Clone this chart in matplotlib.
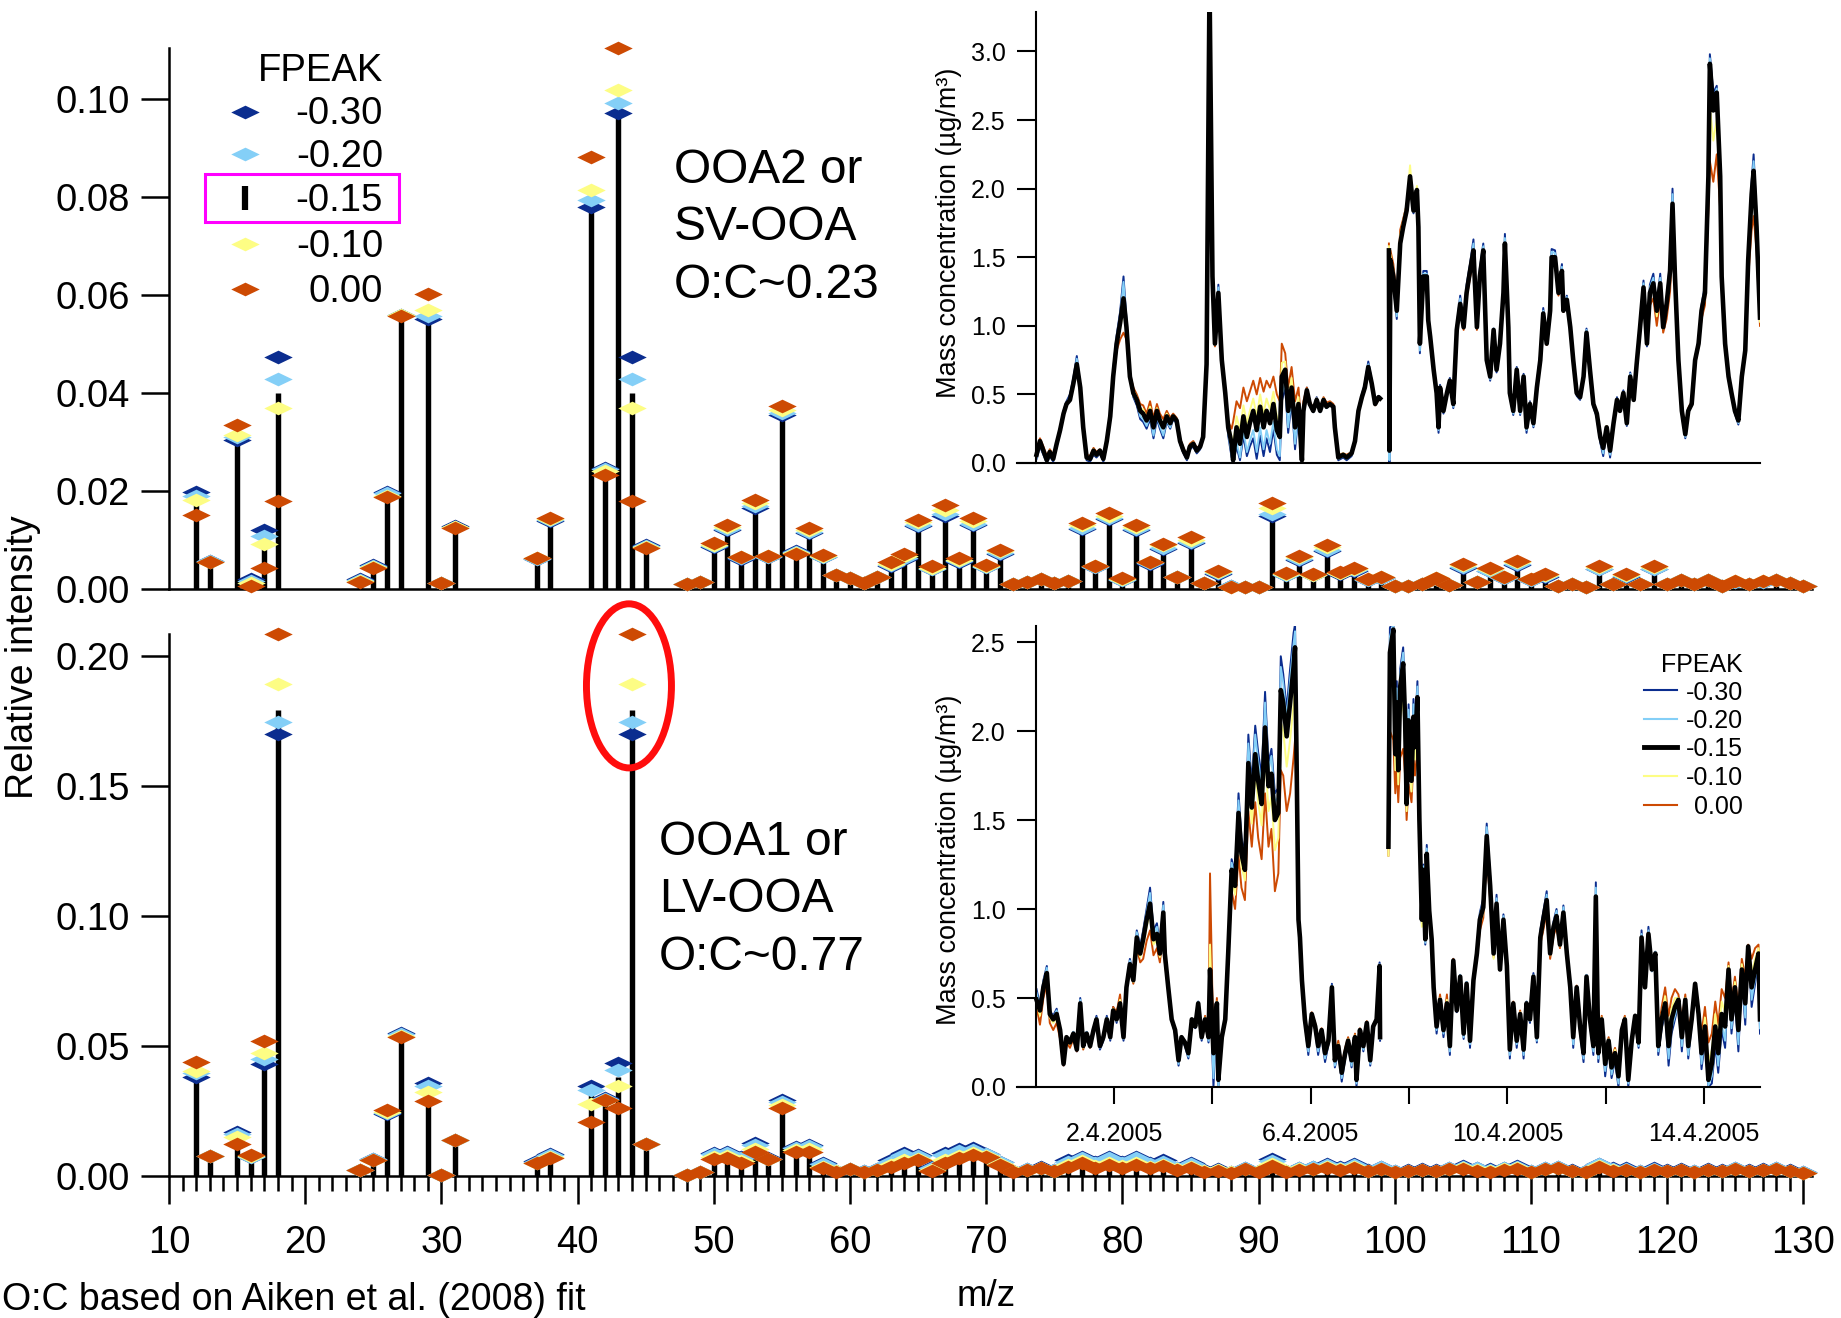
import numpy as np
import matplotlib
matplotlib.use('Agg')
import matplotlib.pyplot as plt
from matplotlib.path import Path
from matplotlib.patches import Ellipse, Rectangle
from matplotlib.lines import Line2D

plt.rcParams['font.family'] = ['Liberation Sans', 'DejaVu Sans']

nan = np.nan
W, H = 1841, 1318

fpeaks = ['-0.30', '-0.20', '-0.15', '-0.10', '0.00']
colors = {'-0.30': '#0b2d8f', '-0.20': '#84cff7', '-0.15': 'black',
          '-0.10': '#fdfd84', '0.00': '#cd4a03'}

# m/z channels shown in both spectra
mz = [12, 13, 15, 16, 17, 18, 24, 25, 26, 27, 29, 30, 31, 37, 38, 41, 42, 43, 44, 45] + list(range(48, 131))

# ---- OOA2 / SV-OOA spectrum (top) ----
top_030 = [0.0197, 0.0058, 0.0305, 0.0020, 0.0121, 0.0474, 0.0020, 0.0050, 0.0198, 0.0560,
           0.0552, 0.0012, 0.0128, 0.0062, 0.0138, 0.0780, 0.0246, 0.0972, 0.0474, 0.0090,
           0.0010, 0.0015, 0.0085, 0.0120, 0.0062, 0.0166, 0.0065, 0.0355, 0.0078, 0.0115,
           0.0065, 0.0028, 0.0022, 0.0013, 0.0025, 0.0046, 0.0062, 0.0128, 0.0040, 0.0148,
           0.0056, 0.0130, 0.0044, 0.0072, 0.0010, 0.0015, 0.0020, 0.0013, 0.0017, 0.0123,
           0.0044, 0.0142, 0.0018, 0.0120, 0.0052, 0.0082, 0.0024, 0.0093, 0.0013, 0.0030,
           0.0006, 0.0005, 0.0005, 0.0148, 0.0028, 0.0060, 0.0028, 0.0077, 0.0031, 0.0037,
           0.0019, 0.0023, 0.0007, 0.0007, 0.0010, 0.0021, 0.0009, 0.0043, 0.0014, 0.0036,
           0.0022, 0.0050, 0.0019, 0.0025, 0.0007, 0.0010, 0.0005, 0.0040, 0.0011, 0.0025,
           0.0010, 0.0040, 0.0010, 0.0018, 0.0011, 0.0018, 0.0007, 0.0015, 0.0010, 0.0015,
           0.0018, 0.0012, 0.0007]
top_020 = [0.0190, 0.0057, 0.0310, 0.0016, 0.0108, 0.0428, 0.0018, 0.0047, 0.0195, 0.0560,
           0.0557, 0.0012, 0.0127, 0.0062, 0.0140, 0.0794, 0.0245, 0.0991, 0.0428, 0.0088,
           0.0010, 0.0015, 0.0087, 0.0122, 0.0063, 0.0169, 0.0066, 0.0359, 0.0076, 0.0117,
           0.0066, 0.0028, 0.0022, 0.0013, 0.0025, 0.0048, 0.0064, 0.0131, 0.0041, 0.0153,
           0.0057, 0.0133, 0.0045, 0.0074, 0.0010, 0.0015, 0.0020, 0.0013, 0.0017, 0.0125,
           0.0045, 0.0145, 0.0019, 0.0122, 0.0053, 0.0084, 0.0024, 0.0096, 0.0013, 0.0032,
           0.0006, 0.0005, 0.0005, 0.0154, 0.0029, 0.0062, 0.0028, 0.0080, 0.0032, 0.0038,
           0.0019, 0.0023, 0.0007, 0.0007, 0.0010, 0.0021, 0.0009, 0.0045, 0.0014, 0.0037,
           0.0023, 0.0052, 0.0019, 0.0026, 0.0007, 0.0010, 0.0005, 0.0041, 0.0011, 0.0026,
           0.0010, 0.0041, 0.0010, 0.0018, 0.0011, 0.0018, 0.0007, 0.0015, 0.0010, 0.0015,
           0.0018, 0.0012, 0.0007]
top_015 = [0.0180, 0.0056, 0.0310, 0.0014, 0.0098, 0.0400, 0.0017, 0.0046, 0.0192, 0.0559,
           0.0560, 0.0012, 0.0126, 0.0063, 0.0141, 0.0800, 0.0243, 0.1000, 0.0400, 0.0087,
           0.0010, 0.0015, 0.0088, 0.0124, 0.0064, 0.0171, 0.0066, 0.0362, 0.0075, 0.0118,
           0.0067, 0.0028, 0.0022, 0.0013, 0.0025, 0.0050, 0.0065, 0.0133, 0.0042, 0.0156,
           0.0058, 0.0135, 0.0045, 0.0075, 0.0010, 0.0015, 0.0020, 0.0012, 0.0017, 0.0127,
           0.0045, 0.0147, 0.0020, 0.0124, 0.0054, 0.0086, 0.0024, 0.0098, 0.0013, 0.0033,
           0.0006, 0.0005, 0.0005, 0.0158, 0.0030, 0.0064, 0.0029, 0.0082, 0.0032, 0.0039,
           0.0019, 0.0024, 0.0007, 0.0007, 0.0010, 0.0021, 0.0009, 0.0047, 0.0014, 0.0038,
           0.0023, 0.0053, 0.0019, 0.0027, 0.0007, 0.0010, 0.0005, 0.0042, 0.0011, 0.0027,
           0.0010, 0.0042, 0.0010, 0.0018, 0.0011, 0.0018, 0.0007, 0.0015, 0.0010, 0.0015,
           0.0018, 0.0012, 0.0007]
top_010 = [0.0181, 0.0056, 0.0314, 0.0012, 0.0092, 0.0370, 0.0016, 0.0045, 0.0190, 0.0559,
           0.0569, 0.0012, 0.0126, 0.0063, 0.0142, 0.0814, 0.0240, 0.1018, 0.0370, 0.0086,
           0.0010, 0.0015, 0.0090, 0.0126, 0.0065, 0.0175, 0.0067, 0.0366, 0.0073, 0.0120,
           0.0068, 0.0028, 0.0022, 0.0013, 0.0025, 0.0052, 0.0067, 0.0136, 0.0043, 0.0162,
           0.0060, 0.0139, 0.0046, 0.0077, 0.0010, 0.0015, 0.0020, 0.0012, 0.0017, 0.0130,
           0.0046, 0.0150, 0.0021, 0.0127, 0.0055, 0.0089, 0.0025, 0.0101, 0.0013, 0.0035,
           0.0005, 0.0005, 0.0005, 0.0165, 0.0031, 0.0066, 0.0029, 0.0085, 0.0033, 0.0040,
           0.0020, 0.0024, 0.0007, 0.0007, 0.0010, 0.0022, 0.0009, 0.0049, 0.0015, 0.0040,
           0.0024, 0.0055, 0.0020, 0.0028, 0.0007, 0.0010, 0.0005, 0.0044, 0.0011, 0.0028,
           0.0010, 0.0044, 0.0010, 0.0019, 0.0011, 0.0019, 0.0007, 0.0016, 0.0010, 0.0016,
           0.0019, 0.0013, 0.0007]
top_000 = [0.0151, 0.0055, 0.0335, 0.0007, 0.0043, 0.0179, 0.0015, 0.0043, 0.0187, 0.0558,
           0.0603, 0.0012, 0.0125, 0.0064, 0.0145, 0.0881, 0.0232, 0.1104, 0.0179, 0.0084,
           0.0010, 0.0015, 0.0094, 0.0130, 0.0066, 0.0182, 0.0068, 0.0373, 0.0071, 0.0125,
           0.0070, 0.0029, 0.0022, 0.0013, 0.0025, 0.0056, 0.0071, 0.0141, 0.0046, 0.0171,
           0.0063, 0.0145, 0.0048, 0.0080, 0.0010, 0.0015, 0.0020, 0.0012, 0.0017, 0.0134,
           0.0047, 0.0155, 0.0022, 0.0130, 0.0056, 0.0092, 0.0025, 0.0106, 0.0013, 0.0037,
           0.0005, 0.0005, 0.0005, 0.0176, 0.0032, 0.0068, 0.0030, 0.0089, 0.0034, 0.0042,
           0.0020, 0.0025, 0.0007, 0.0007, 0.0010, 0.0022, 0.0009, 0.0052, 0.0015, 0.0042,
           0.0025, 0.0058, 0.0020, 0.0030, 0.0007, 0.0010, 0.0005, 0.0046, 0.0011, 0.0030,
           0.0010, 0.0046, 0.0010, 0.0019, 0.0011, 0.0019, 0.0007, 0.0016, 0.0010, 0.0016,
           0.0019, 0.0013, 0.0007]

# ---- OOA1 / LV-OOA spectrum (bottom) ----
bot_030 = [0.0380, 0.0076, 0.0169, 0.0072, 0.0431, 0.1701, 0.0024, 0.0064, 0.0240, 0.0550,
           0.0357, 0.0005, 0.0138, 0.0058, 0.0085, 0.0345, 0.0300, 0.0433, 0.1701, 0.0124,
           0.0004, 0.0017, 0.0087, 0.0094, 0.0074, 0.0126, 0.0068, 0.0292, 0.0113, 0.0120,
           0.0049, 0.0020, 0.0028, 0.0018, 0.0025, 0.0060, 0.0087, 0.0080, 0.0035, 0.0090,
           0.0103, 0.0106, 0.0085, 0.0055, 0.0020, 0.0026, 0.0033, 0.0024, 0.0060, 0.0074,
           0.0055, 0.0074, 0.0055, 0.0074, 0.0049, 0.0060, 0.0030, 0.0049, 0.0022, 0.0025,
           0.0015, 0.0030, 0.0020, 0.0064, 0.0020, 0.0032, 0.0035, 0.0045, 0.0035, 0.0045,
           0.0022, 0.0035, 0.0019, 0.0022, 0.0025, 0.0022, 0.0030, 0.0038, 0.0032, 0.0026,
           0.0032, 0.0040, 0.0019, 0.0030, 0.0035, 0.0022, 0.0019, 0.0048, 0.0030, 0.0030,
           0.0019, 0.0030, 0.0022, 0.0025, 0.0019, 0.0025, 0.0022, 0.0032, 0.0022, 0.0025,
           0.0030, 0.0022, 0.0014]
bot_020 = [0.0395, 0.0076, 0.0162, 0.0074, 0.0450, 0.1745, 0.0024, 0.0064, 0.0244, 0.0545,
           0.0345, 0.0005, 0.0137, 0.0055, 0.0080, 0.0330, 0.0297, 0.0409, 0.1745, 0.0124,
           0.0004, 0.0017, 0.0083, 0.0089, 0.0068, 0.0118, 0.0067, 0.0286, 0.0109, 0.0115,
           0.0045, 0.0019, 0.0028, 0.0018, 0.0025, 0.0055, 0.0080, 0.0076, 0.0032, 0.0082,
           0.0096, 0.0101, 0.0083, 0.0052, 0.0019, 0.0025, 0.0032, 0.0023, 0.0055, 0.0069,
           0.0050, 0.0068, 0.0050, 0.0068, 0.0045, 0.0055, 0.0029, 0.0045, 0.0021, 0.0024,
           0.0015, 0.0029, 0.0019, 0.0058, 0.0019, 0.0030, 0.0033, 0.0042, 0.0032, 0.0042,
           0.0021, 0.0033, 0.0018, 0.0021, 0.0024, 0.0021, 0.0029, 0.0035, 0.0029, 0.0024,
           0.0030, 0.0036, 0.0018, 0.0029, 0.0034, 0.0021, 0.0018, 0.0045, 0.0027, 0.0028,
           0.0018, 0.0028, 0.0021, 0.0024, 0.0018, 0.0024, 0.0021, 0.0030, 0.0021, 0.0024,
           0.0029, 0.0021, 0.0014]
bot_015 = [0.0395, 0.0076, 0.0158, 0.0076, 0.0455, 0.1793, 0.0024, 0.0063, 0.0246, 0.0542,
           0.0335, 0.0005, 0.0137, 0.0052, 0.0076, 0.0310, 0.0295, 0.0380, 0.1793, 0.0123,
           0.0004, 0.0017, 0.0078, 0.0083, 0.0062, 0.0110, 0.0066, 0.0280, 0.0104, 0.0108,
           0.0040, 0.0018, 0.0027, 0.0018, 0.0024, 0.0050, 0.0071, 0.0071, 0.0028, 0.0073,
           0.0088, 0.0095, 0.0080, 0.0049, 0.0018, 0.0024, 0.0031, 0.0022, 0.0049, 0.0063,
           0.0043, 0.0060, 0.0043, 0.0060, 0.0040, 0.0049, 0.0027, 0.0040, 0.0019, 0.0023,
           0.0014, 0.0028, 0.0018, 0.0052, 0.0018, 0.0027, 0.0031, 0.0039, 0.0028, 0.0038,
           0.0020, 0.0030, 0.0018, 0.0020, 0.0023, 0.0020, 0.0028, 0.0032, 0.0025, 0.0021,
           0.0027, 0.0033, 0.0018, 0.0028, 0.0033, 0.0020, 0.0018, 0.0041, 0.0024, 0.0026,
           0.0018, 0.0026, 0.0020, 0.0023, 0.0018, 0.0023, 0.0020, 0.0028, 0.0020, 0.0023,
           0.0028, 0.0020, 0.0013]
bot_010 = [0.0405, 0.0076, 0.0151, 0.0078, 0.0472, 0.1893, 0.0023, 0.0063, 0.0248, 0.0538,
           0.0322, 0.0005, 0.0137, 0.0050, 0.0073, 0.0275, 0.0293, 0.0345, 0.1893, 0.0123,
           0.0004, 0.0017, 0.0072, 0.0077, 0.0056, 0.0103, 0.0065, 0.0272, 0.0100, 0.0102,
           0.0035, 0.0018, 0.0027, 0.0017, 0.0024, 0.0043, 0.0060, 0.0066, 0.0024, 0.0062,
           0.0078, 0.0088, 0.0077, 0.0046, 0.0018, 0.0024, 0.0030, 0.0021, 0.0043, 0.0056,
           0.0037, 0.0051, 0.0037, 0.0051, 0.0035, 0.0044, 0.0025, 0.0035, 0.0018, 0.0022,
           0.0014, 0.0027, 0.0018, 0.0045, 0.0018, 0.0025, 0.0028, 0.0036, 0.0025, 0.0034,
           0.0020, 0.0028, 0.0017, 0.0020, 0.0022, 0.0020, 0.0027, 0.0029, 0.0022, 0.0019,
           0.0025, 0.0030, 0.0017, 0.0027, 0.0032, 0.0020, 0.0017, 0.0038, 0.0022, 0.0024,
           0.0017, 0.0024, 0.0020, 0.0022, 0.0017, 0.0022, 0.0020, 0.0027, 0.0020, 0.0022,
           0.0027, 0.0020, 0.0013]
bot_000 = [0.0437, 0.0076, 0.0123, 0.0081, 0.0521, 0.2083, 0.0023, 0.0063, 0.0252, 0.0534,
           0.0287, 0.0005, 0.0137, 0.0049, 0.0070, 0.0208, 0.0292, 0.0261, 0.2083, 0.0123,
           0.0004, 0.0017, 0.0064, 0.0068, 0.0049, 0.0094, 0.0064, 0.0261, 0.0094, 0.0094,
           0.0030, 0.0017, 0.0026, 0.0017, 0.0023, 0.0036, 0.0049, 0.0060, 0.0020, 0.0049,
           0.0068, 0.0080, 0.0074, 0.0042, 0.0017, 0.0023, 0.0030, 0.0020, 0.0036, 0.0049,
           0.0030, 0.0042, 0.0030, 0.0042, 0.0030, 0.0038, 0.0023, 0.0030, 0.0017, 0.0020,
           0.0013, 0.0026, 0.0017, 0.0038, 0.0017, 0.0022, 0.0026, 0.0032, 0.0022, 0.0030,
           0.0019, 0.0026, 0.0017, 0.0019, 0.0022, 0.0019, 0.0026, 0.0026, 0.0019, 0.0017,
           0.0022, 0.0026, 0.0017, 0.0026, 0.0032, 0.0019, 0.0017, 0.0035, 0.0019, 0.0022,
           0.0017, 0.0022, 0.0019, 0.0022, 0.0017, 0.0022, 0.0019, 0.0026, 0.0019, 0.0022,
           0.0026, 0.0019, 0.0013]

# ---- time series, days in April 2005 (top inset, OOA2) ----
t_top = [0.42, 0.49, 0.56, 0.63, 0.69, 0.76, 0.83, 0.90, 0.97, 1.03,
         1.10, 1.17, 1.24, 1.31, 1.37, 1.44, 1.51, 1.58, 1.64, 1.71,
         1.78, 1.85, 1.92, 1.98, 2.05, 2.12, 2.19, 2.25, 2.32, 2.39,
         2.46, 2.53, 2.59, 2.66, 2.73, 2.80, 2.87, 2.93, 3.00, 3.07,
         3.14, 3.20, 3.27, 3.34, 3.41, 3.48, 3.54, 3.61, 3.68, 3.75,
         3.81, 3.88, 3.94, 4.00, 4.05, 4.12, 4.19, 4.26, 4.32, 4.39,
         4.42, 4.49, 4.56, 4.63, 4.70, 4.76, 4.83, 4.90, 4.97, 5.04,
         5.10, 5.17, 5.24, 5.31, 5.37, 5.41, 5.48, 5.54, 5.61, 5.68,
         5.75, 5.82, 5.85, 5.92, 5.98, 6.05, 6.12, 6.19, 6.26, 6.32,
         6.39, 6.46, 6.49, 6.56, 6.66, 6.73, 6.83, 6.90, 6.97, 7.04,
         7.10, 7.17, 7.24, 7.31, 7.38, 7.41, 7.50, 7.59, 7.60, 7.62,
         7.68, 7.75, 7.82, 7.88, 7.95, 8.02, 8.09, 8.16, 8.19, 8.22,
         8.29, 8.36, 8.39, 8.43, 8.50, 8.56, 8.60, 8.63, 8.70, 8.77,
         8.83, 8.90, 8.97, 9.04, 9.11, 9.17, 9.24, 9.31, 9.38, 9.44,
         9.51, 9.58, 9.65, 9.72, 9.78, 9.85, 9.92, 9.95, 10.02, 10.05,
         10.12, 10.19, 10.26, 10.33, 10.39, 10.46, 10.53, 10.60, 10.67, 10.73,
         10.80, 10.87, 10.90, 10.97, 11.04, 11.11, 11.14, 11.21, 11.28, 11.34,
         11.41, 11.48, 11.55, 11.61, 11.68, 11.75, 11.82, 11.89, 11.95, 12.02,
         12.09, 12.16, 12.23, 12.29, 12.36, 12.43, 12.50, 12.57, 12.63, 12.70,
         12.77, 12.84, 12.90, 12.97, 13.04, 13.11, 13.17, 13.24, 13.31, 13.36,
         13.41, 13.48, 13.55, 13.62, 13.68, 13.75, 13.82, 13.89, 13.95, 14.02,
         14.09, 14.12, 14.19, 14.26, 14.33, 14.36, 14.43, 14.50, 14.56, 14.63,
         14.70, 14.77, 14.84, 14.90, 14.97, 15.01, 15.07, 15.14]
ts_top_015 = [0.06, 0.16, 0.09, 0.02, 0.08, 0.03, 0.14, 0.24, 0.36, 0.43,
              0.46, 0.58, 0.72, 0.55, 0.26, 0.04, 0.03, 0.09, 0.06, 0.09,
              0.03, 0.16, 0.34, 0.63, 0.87, 1.02, 1.20, 0.99, 0.63, 0.51,
              0.46, 0.38, 0.36, 0.31, 0.38, 0.26, 0.38, 0.31, 0.26, 0.34,
              0.29, 0.34, 0.31, 0.16, 0.09, 0.04, 0.12, 0.14, 0.09, 0.12,
              0.19, 0.72, 3.50, 1.36, 0.87, 1.24, 0.75, 0.51, 0.26, 0.14,
              0.02, 0.26, 0.14, 0.34, 0.19, 0.29, 0.38, 0.24, 0.41, 0.26,
              0.38, 0.29, 0.43, 0.24, 0.19, 0.63, 0.68, 0.38, 0.55, 0.26,
              0.43, 0.02, 0.38, 0.53, 0.43, 0.38, 0.46, 0.38, 0.46, 0.41,
              0.43, 0.41, 0.26, 0.04, 0.06, 0.04, 0.07, 0.16, 0.38, 0.48,
              0.55, 0.70, 0.58, 0.43, 0.48, 0.47, nan, 1.55, 0.09, 1.48,
              1.36, 1.11, 1.60, 1.72, 1.84, 2.09, 1.84, 1.99, 1.72, 0.87,
              1.36, 1.36, 1.04, 0.92, 0.68, 0.51, 0.26, 0.55, 0.38, 0.51,
              0.60, 0.43, 0.97, 1.16, 0.99, 1.24, 1.40, 1.55, 0.99, 1.36,
              1.55, 0.75, 0.63, 0.97, 0.68, 0.87, 1.24, 1.60, 0.99, 0.51,
              0.38, 0.68, 0.38, 0.63, 0.26, 0.43, 0.29, 0.55, 0.75, 1.09,
              0.87, 1.11, 1.50, 1.50, 1.24, 1.40, 1.11, 1.19, 0.99, 0.75,
              0.51, 0.48, 0.63, 0.95, 0.68, 0.43, 0.36, 0.19, 0.11, 0.26,
              0.09, 0.29, 0.46, 0.38, 0.51, 0.29, 0.63, 0.46, 0.72, 0.99,
              1.28, 0.87, 1.24, 1.31, 1.11, 1.31, 0.99, 1.16, 1.40, 1.89,
              1.36, 0.75, 0.38, 0.21, 0.38, 0.43, 0.75, 0.87, 1.11, 1.24,
              2.09, 2.91, 2.57, 2.70, 2.09, 1.36, 0.87, 0.63, 0.51, 0.38,
              0.31, 0.63, 0.82, 1.48, 1.96, 2.13, 1.72, 1.06]
ts_top_000 = [0.10, 0.18, 0.12, 0.05, 0.10, 0.06, 0.15, 0.26, 0.37, 0.43,
              0.46, 0.57, 0.68, 0.53, 0.27, 0.06, 0.05, 0.11, 0.08, 0.10,
              0.05, 0.17, 0.34, 0.60, 0.82, 0.90, 0.95, 0.90, 0.65, 0.55,
              0.50, 0.43, 0.42, 0.36, 0.45, 0.33, 0.43, 0.36, 0.32, 0.38,
              0.33, 0.36, 0.33, 0.18, 0.11, 0.06, 0.14, 0.16, 0.11, 0.13,
              0.20, 0.70, 3.40, 1.30, 0.85, 1.15, 0.72, 0.52, 0.30, 0.25,
              0.30, 0.45, 0.40, 0.55, 0.45, 0.52, 0.60, 0.50, 0.62, 0.52,
              0.60, 0.55, 0.63, 0.50, 0.45, 0.87, 0.80, 0.55, 0.70, 0.45,
              0.55, 0.20, 0.45, 0.55, 0.45, 0.40, 0.47, 0.40, 0.48, 0.44,
              0.45, 0.43, 0.28, 0.06, 0.07, 0.06, 0.08, 0.17, 0.38, 0.47,
              0.53, 0.66, 0.56, 0.42, 0.46, 0.46, nan, 1.60, 0.10, 1.55,
              1.45, 1.20, 1.70, 1.78, 1.88, 2.05, 1.85, 1.95, 1.70, 0.90,
              1.30, 1.32, 1.02, 0.90, 0.67, 0.52, 0.30, 0.55, 0.40, 0.52,
              0.60, 0.45, 0.95, 1.12, 0.97, 1.20, 1.35, 1.48, 0.97, 1.30,
              1.48, 0.75, 0.63, 0.95, 0.70, 0.85, 1.20, 1.52, 0.97, 0.52,
              0.40, 0.68, 0.40, 0.63, 0.28, 0.44, 0.31, 0.55, 0.73, 1.05,
              0.86, 1.08, 1.45, 1.45, 1.22, 1.35, 1.10, 1.17, 0.98, 0.75,
              0.52, 0.49, 0.63, 0.93, 0.68, 0.44, 0.37, 0.21, 0.13, 0.27,
              0.11, 0.30, 0.46, 0.39, 0.51, 0.31, 0.62, 0.47, 0.70, 0.95,
              1.20, 0.90, 1.15, 1.20, 1.00, 1.20, 0.95, 1.05, 1.25, 1.60,
              1.30, 0.78, 0.42, 0.25, 0.40, 0.45, 0.72, 0.85, 1.05, 1.15,
              1.85, 2.20, 2.05, 2.25, 1.85, 1.30, 0.85, 0.62, 0.52, 0.40,
              0.33, 0.62, 0.80, 1.35, 1.70, 1.80, 1.55, 1.00]
ts_top_030 = [0.03, 0.12, 0.06, 0.00, 0.05, 0.01, 0.12, 0.22, 0.38, 0.45,
              0.50, 0.62, 0.78, 0.56, 0.24, 0.02, 0.01, 0.06, 0.04, 0.07,
              0.01, 0.14, 0.35, 0.68, 0.93, 1.10, 1.36, 1.05, 0.62, 0.48,
              0.42, 0.32, 0.30, 0.25, 0.32, 0.18, 0.32, 0.25, 0.18, 0.30,
              0.25, 0.32, 0.29, 0.14, 0.07, 0.02, 0.10, 0.12, 0.07, 0.10,
              0.18, 0.78, 3.60, 1.42, 0.88, 1.30, 0.77, 0.48, 0.20, 0.04,
              0.00, 0.12, 0.02, 0.20, 0.05, 0.12, 0.18, 0.03, 0.20, 0.05,
              0.18, 0.08, 0.25, 0.06, 0.02, 0.45, 0.55, 0.22, 0.45, 0.10,
              0.35, 0.00, 0.33, 0.55, 0.43, 0.37, 0.48, 0.37, 0.46, 0.40,
              0.43, 0.40, 0.24, 0.02, 0.04, 0.02, 0.05, 0.15, 0.40, 0.50,
              0.58, 0.74, 0.60, 0.43, 0.49, 0.48, nan, 1.55, 0.00, 1.45,
              1.30, 1.05, 1.58, 1.70, 1.84, 2.05, 1.82, 2.00, 1.75, 0.80,
              1.40, 1.40, 1.06, 0.92, 0.67, 0.48, 0.22, 0.57, 0.36, 0.52,
              0.62, 0.40, 1.00, 1.22, 1.02, 1.30, 1.45, 1.63, 1.00, 1.42,
              1.60, 0.74, 0.60, 0.98, 0.66, 0.90, 1.30, 1.67, 1.00, 0.49,
              0.35, 0.70, 0.35, 0.65, 0.22, 0.45, 0.26, 0.58, 0.80, 1.13,
              0.89, 1.15, 1.56, 1.55, 1.27, 1.45, 1.13, 1.22, 1.00, 0.74,
              0.49, 0.46, 0.65, 0.98, 0.68, 0.41, 0.33, 0.15, 0.05, 0.24,
              0.04, 0.27, 0.48, 0.38, 0.53, 0.27, 0.66, 0.46, 0.75, 1.03,
              1.33, 0.85, 1.30, 1.38, 1.14, 1.38, 1.00, 1.20, 1.47, 2.00,
              1.40, 0.74, 0.35, 0.18, 0.37, 0.43, 0.77, 0.90, 1.15, 1.30,
              2.20, 2.98, 2.70, 2.75, 2.15, 1.40, 0.88, 0.62, 0.49, 0.36,
              0.28, 0.64, 0.85, 1.55, 2.05, 2.25, 1.80, 1.10]
ts_top_020 = [0.04, 0.13, 0.07, 0.00, 0.06, 0.02, 0.13, 0.23, 0.37, 0.44,
              0.48, 0.60, 0.76, 0.56, 0.25, 0.03, 0.02, 0.07, 0.05, 0.08,
              0.02, 0.15, 0.35, 0.66, 0.91, 1.07, 1.32, 1.03, 0.62, 0.49,
              0.44, 0.34, 0.32, 0.27, 0.34, 0.20, 0.34, 0.27, 0.20, 0.31,
              0.26, 0.33, 0.30, 0.15, 0.08, 0.03, 0.11, 0.13, 0.08, 0.11,
              0.18, 0.76, 3.56, 1.40, 0.88, 1.28, 0.76, 0.49, 0.22, 0.06,
              0.00, 0.15, 0.04, 0.24, 0.08, 0.16, 0.24, 0.08, 0.26, 0.10,
              0.24, 0.14, 0.30, 0.10, 0.05, 0.50, 0.58, 0.26, 0.48, 0.14,
              0.37, 0.00, 0.35, 0.54, 0.43, 0.37, 0.47, 0.37, 0.46, 0.40,
              0.43, 0.40, 0.25, 0.03, 0.05, 0.03, 0.06, 0.15, 0.39, 0.49,
              0.57, 0.72, 0.59, 0.43, 0.48, 0.47, nan, 1.55, 0.02, 1.46,
              1.32, 1.07, 1.59, 1.71, 1.84, 2.07, 1.83, 2.00, 1.74, 0.82,
              1.38, 1.38, 1.05, 0.92, 0.67, 0.49, 0.24, 0.56, 0.37, 0.51,
              0.61, 0.41, 0.99, 1.20, 1.01, 1.28, 1.43, 1.60, 1.00, 1.40,
              1.58, 0.74, 0.61, 0.98, 0.67, 0.89, 1.28, 1.64, 1.00, 0.50,
              0.36, 0.69, 0.36, 0.64, 0.24, 0.44, 0.27, 0.57, 0.78, 1.11,
              0.88, 1.13, 1.54, 1.53, 1.26, 1.43, 1.12, 1.21, 1.00, 0.75,
              0.50, 0.47, 0.64, 0.97, 0.68, 0.42, 0.34, 0.17, 0.07, 0.25,
              0.06, 0.28, 0.47, 0.38, 0.52, 0.28, 0.65, 0.46, 0.74, 1.01,
              1.31, 0.86, 1.28, 1.35, 1.13, 1.35, 1.00, 1.18, 1.44, 1.96,
              1.38, 0.75, 0.36, 0.19, 0.37, 0.43, 0.76, 0.89, 1.13, 1.28,
              2.16, 2.95, 2.65, 2.73, 2.12, 1.38, 0.87, 0.62, 0.50, 0.37,
              0.29, 0.64, 0.84, 1.52, 2.01, 2.20, 1.77, 1.08]
ts_top_010 = [0.07, 0.16, 0.10, 0.03, 0.09, 0.04, 0.14, 0.24, 0.36, 0.43,
              0.46, 0.58, 0.71, 0.54, 0.26, 0.05, 0.04, 0.10, 0.07, 0.09,
              0.04, 0.16, 0.34, 0.62, 0.85, 0.98, 1.12, 0.96, 0.64, 0.53,
              0.48, 0.40, 0.39, 0.33, 0.41, 0.29, 0.40, 0.33, 0.28, 0.36,
              0.31, 0.35, 0.32, 0.17, 0.10, 0.05, 0.13, 0.15, 0.10, 0.12,
              0.19, 0.71, 3.46, 1.33, 0.86, 1.20, 0.74, 0.51, 0.28, 0.19,
              0.12, 0.34, 0.24, 0.42, 0.29, 0.38, 0.47, 0.34, 0.50, 0.36,
              0.47, 0.39, 0.52, 0.34, 0.30, 0.73, 0.74, 0.46, 0.62, 0.34,
              0.48, 0.10, 0.41, 0.54, 0.44, 0.39, 0.47, 0.39, 0.47, 0.42,
              0.44, 0.42, 0.27, 0.05, 0.07, 0.05, 0.08, 0.16, 0.38, 0.48,
              0.54, 0.68, 0.57, 0.43, 0.47, 0.47, nan, 1.58, 0.10, 1.52,
              1.40, 1.16, 1.66, 1.76, 1.88, 2.17, 1.86, 2.02, 1.72, 0.89,
              1.34, 1.35, 1.04, 0.92, 0.68, 0.52, 0.28, 0.55, 0.39, 0.52,
              0.60, 0.44, 0.97, 1.15, 0.99, 1.23, 1.39, 1.55, 0.99, 1.34,
              1.52, 0.76, 0.64, 0.97, 0.69, 0.87, 1.23, 1.58, 0.99, 0.52,
              0.39, 0.68, 0.39, 0.63, 0.27, 0.44, 0.30, 0.55, 0.75, 1.08,
              0.87, 1.10, 1.49, 1.48, 1.24, 1.39, 1.11, 1.19, 0.99, 0.75,
              0.52, 0.49, 0.63, 0.95, 0.68, 0.44, 0.37, 0.20, 0.12, 0.27,
              0.10, 0.30, 0.46, 0.39, 0.51, 0.30, 0.63, 0.47, 0.72, 0.98,
              1.25, 0.89, 1.21, 1.27, 1.07, 1.27, 0.98, 1.12, 1.34, 1.78,
              1.34, 0.76, 0.40, 0.23, 0.39, 0.44, 0.74, 0.86, 1.09, 1.20,
              1.98, 2.60, 2.35, 2.50, 1.98, 1.34, 0.86, 0.63, 0.52, 0.39,
              0.32, 0.63, 0.81, 1.42, 1.85, 1.98, 1.65, 1.03]

# ---- time series, days in April 2005 (bottom inset, OOA1) ----
t_bot = [0.42, 0.49, 0.56, 0.63, 0.69, 0.76, 0.83, 0.90, 0.97, 1.03,
         1.10, 1.17, 1.24, 1.31, 1.37, 1.44, 1.51, 1.58, 1.64, 1.71,
         1.78, 1.85, 1.92, 1.98, 2.05, 2.12, 2.19, 2.25, 2.32, 2.39,
         2.46, 2.53, 2.59, 2.66, 2.73, 2.80, 2.87, 2.93, 3.00, 3.03,
         3.10, 3.17, 3.24, 3.31, 3.37, 3.44, 3.51, 3.58, 3.65, 3.71,
         3.78, 3.85, 3.92, 3.95, 4.02, 4.09, 4.12, 4.19, 4.26, 4.32,
         4.39, 4.46, 4.53, 4.59, 4.66, 4.73, 4.80, 4.87, 4.93, 5.00,
         5.07, 5.14, 5.20, 5.27, 5.34, 5.39, 5.44, 5.51, 5.58, 5.65,
         5.68, 5.71, 5.75, 5.78, 5.82, 5.88, 5.95, 6.02, 6.09, 6.15,
         6.22, 6.29, 6.36, 6.43, 6.49, 6.56, 6.63, 6.70, 6.76, 6.83,
         6.90, 6.93, 7.00, 7.07, 7.14, 7.21, 7.27, 7.34, 7.40, 7.41,
         7.50, 7.58, 7.61, 7.68, 7.72, 7.75, 7.78, 7.82, 7.88, 7.92,
         7.95, 7.99, 8.05, 8.09, 8.12, 8.17, 8.21, 8.26, 8.29, 8.33,
         8.36, 8.41, 8.46, 8.50, 8.56, 8.63, 8.70, 8.77, 8.83, 8.90,
         8.97, 9.04, 9.11, 9.17, 9.24, 9.31, 9.38, 9.44, 9.51, 9.58,
         9.65, 9.72, 9.78, 9.85, 9.92, 9.99, 10.05, 10.12, 10.19, 10.26,
         10.33, 10.39, 10.46, 10.53, 10.60, 10.67, 10.73, 10.80, 10.87, 10.94,
         11.00, 11.07, 11.14, 11.21, 11.28, 11.34, 11.41, 11.48, 11.55, 11.61,
         11.68, 11.75, 11.80, 11.85, 11.92, 11.99, 12.06, 12.12, 12.19, 12.26,
         12.33, 12.39, 12.46, 12.53, 12.60, 12.67, 12.73, 12.80, 12.87, 12.94,
         13.01, 13.07, 13.14, 13.21, 13.28, 13.34, 13.41, 13.48, 13.55, 13.62,
         13.68, 13.75, 13.82, 13.89, 13.95, 14.02, 14.09, 14.16, 14.23, 14.29,
         14.36, 14.43, 14.50, 14.56, 14.63, 14.70, 14.77, 14.84, 14.90, 14.97,
         15.04, 15.11, 15.14]
ts_bot_015 = [0.49, 0.43, 0.56, 0.64, 0.41, 0.38, 0.41, 0.32, 0.13, 0.28,
              0.25, 0.30, 0.21, 0.47, 0.23, 0.30, 0.23, 0.32, 0.38, 0.23,
              0.28, 0.38, 0.28, 0.43, 0.38, 0.47, 0.28, 0.56, 0.69, 0.60,
              0.84, 0.75, 0.83, 0.94, 1.03, 0.83, 0.86, 0.75, 0.98, 0.75,
              0.56, 0.38, 0.32, 0.15, 0.28, 0.25, 0.19, 0.38, 0.34, 0.47,
              0.28, 0.38, 0.28, 0.66, 0.19, 0.47, 0.04, 0.28, 0.38, 0.75,
              1.22, 1.13, 1.54, 1.31, 1.22, 1.82, 1.57, 1.87, 1.72, 1.59,
              2.02, 1.69, 1.76, 1.50, 1.54, 2.23, 2.16, 1.97, 2.16, 2.36,
              2.47, 1.87, 0.94, 0.84, 0.60, 0.38, 0.23, 0.41, 0.34, 0.23,
              0.32, 0.19, 0.26, 0.56, 0.15, 0.23, 0.08, 0.19, 0.26, 0.15,
              0.28, 0.04, 0.32, 0.23, 0.36, 0.15, 0.34, 0.38, 0.68, 0.28,
              nan, 1.35, 2.44, 2.57, 1.87, 2.16, 1.78, 2.25, 2.38, 2.06,
              1.59, 2.06, 1.72, 2.08, 1.91, 2.19, 1.50, 0.94, 1.22, 0.83,
              1.31, 0.99, 0.83, 0.56, 0.34, 0.49, 0.32, 0.47, 0.23, 0.71,
              0.43, 0.62, 0.30, 0.58, 0.26, 0.60, 0.75, 0.94, 1.01, 1.41,
              1.13, 0.75, 1.03, 0.66, 0.94, 0.68, 0.21, 0.47, 0.26, 0.41,
              0.21, 0.47, 0.38, 0.62, 0.28, 0.84, 0.94, 1.05, 0.75, 0.90,
              0.96, 0.80, 0.98, 0.75, 0.56, 0.28, 0.56, 0.34, 0.19, 0.62,
              0.38, 0.23, 1.07, 0.19, 0.38, 0.13, 0.26, 0.11, 0.19, 0.06,
              0.32, 0.38, 0.04, 0.26, 0.40, 0.25, 0.84, 0.56, 0.86, 0.66,
              0.75, 0.23, 0.38, 0.47, 0.23, 0.38, 0.45, 0.49, 0.28, 0.49,
              0.23, 0.38, 0.58, 0.41, 0.19, 0.34, 0.04, 0.13, 0.34, 0.19,
              0.41, 0.34, 0.66, 0.38, 0.56, 0.32, 0.66, 0.47, 0.79, 0.56,
              0.66, 0.75, 0.38]
ts_bot_000 = [0.45, 0.35, 0.50, 0.58, 0.36, 0.32, 0.36, 0.27, 0.12, 0.25,
              0.22, 0.27, 0.20, 0.43, 0.21, 0.28, 0.22, 0.31, 0.37, 0.23,
              0.28, 0.37, 0.30, 0.45, 0.42, 0.52, 0.30, 0.57, 0.68, 0.58,
              0.78, 0.70, 0.72, 0.82, 0.88, 0.74, 0.78, 0.70, 0.88, 0.70,
              0.54, 0.37, 0.32, 0.17, 0.28, 0.26, 0.20, 0.38, 0.34, 0.46,
              0.29, 0.40, 0.30, 1.20, 0.22, 0.50, 0.10, 0.30, 0.38, 0.70,
              1.10, 1.00, 1.30, 1.12, 1.05, 1.55, 1.35, 1.60, 1.40, 1.28,
              1.65, 1.35, 1.45, 1.10, 1.20, 1.78, 1.75, 1.55, 1.65, 1.85,
              1.95, 1.60, 0.90, 0.82, 0.62, 0.40, 0.26, 0.42, 0.36, 0.26,
              0.33, 0.22, 0.28, 0.55, 0.18, 0.26, 0.12, 0.22, 0.28, 0.19,
              0.30, 0.10, 0.33, 0.26, 0.37, 0.18, 0.35, 0.38, 0.65, 0.29,
              nan, 1.30, 2.00, 1.95, 1.65, 1.80, 1.60, 1.85, 1.90, 1.75,
              1.50, 1.70, 1.60, 1.85, 1.75, 1.90, 1.45, 0.98, 1.18, 0.88,
              1.22, 0.95, 0.83, 0.58, 0.38, 0.52, 0.36, 0.52, 0.28, 0.72,
              0.46, 0.62, 0.34, 0.58, 0.30, 0.60, 0.72, 0.88, 0.95, 1.30,
              1.05, 0.73, 0.98, 0.66, 0.90, 0.68, 0.25, 0.48, 0.28, 0.43,
              0.25, 0.47, 0.40, 0.60, 0.30, 0.80, 0.88, 0.98, 0.72, 0.85,
              0.90, 0.78, 0.92, 0.72, 0.56, 0.32, 0.57, 0.38, 0.24, 0.62,
              0.40, 0.28, 0.98, 0.23, 0.40, 0.18, 0.28, 0.16, 0.22, 0.12,
              0.34, 0.40, 0.10, 0.28, 0.40, 0.28, 0.80, 0.56, 0.82, 0.68,
              0.74, 0.30, 0.45, 0.56, 0.40, 0.50, 0.55, 0.52, 0.38, 0.52,
              0.32, 0.42, 0.58, 0.44, 0.30, 0.45, 0.25, 0.30, 0.48, 0.35,
              0.55, 0.50, 0.70, 0.48, 0.62, 0.45, 0.72, 0.62, 0.80, 0.72,
              0.78, 0.80, 0.45]
ts_bot_030 = [0.55, 0.46, 0.60, 0.68, 0.43, 0.40, 0.44, 0.33, 0.12, 0.28,
              0.24, 0.31, 0.20, 0.50, 0.22, 0.31, 0.22, 0.33, 0.40, 0.21,
              0.26, 0.40, 0.26, 0.45, 0.36, 0.48, 0.26, 0.58, 0.72, 0.62,
              0.88, 0.79, 0.88, 1.00, 1.12, 0.88, 0.92, 0.78, 1.04, 0.77,
              0.57, 0.37, 0.30, 0.12, 0.27, 0.23, 0.16, 0.38, 0.33, 0.48,
              0.26, 0.38, 0.25, 0.60, 0.00, 0.45, 0.00, 0.26, 0.38, 0.80,
              1.28, 1.20, 1.65, 1.40, 1.32, 1.98, 1.70, 2.03, 1.88, 1.75,
              2.22, 1.82, 1.90, 1.65, 1.68, 2.42, 2.32, 2.12, 2.35, 2.55,
              2.60, 1.95, 0.96, 0.85, 0.58, 0.36, 0.18, 0.40, 0.32, 0.18,
              0.30, 0.14, 0.24, 0.58, 0.11, 0.20, 0.03, 0.16, 0.24, 0.11,
              0.27, 0.00, 0.31, 0.20, 0.36, 0.12, 0.34, 0.38, 0.70, 0.26,
              nan, 1.38, 2.58, 2.62, 1.95, 2.28, 1.85, 2.35, 2.47, 2.15,
              1.62, 2.15, 1.78, 2.18, 1.98, 2.28, 1.52, 0.92, 1.25, 0.80,
              1.36, 1.01, 0.82, 0.54, 0.30, 0.47, 0.28, 0.45, 0.18, 0.72,
              0.42, 0.63, 0.27, 0.59, 0.22, 0.61, 0.78, 0.98, 1.06, 1.48,
              1.18, 0.76, 1.08, 0.66, 0.97, 0.68, 0.16, 0.46, 0.22, 0.40,
              0.16, 0.48, 0.36, 0.64, 0.25, 0.88, 0.98, 1.10, 0.76, 0.93,
              1.00, 0.81, 1.02, 0.76, 0.55, 0.22, 0.56, 0.30, 0.14, 0.63,
              0.36, 0.18, 1.15, 0.14, 0.36, 0.06, 0.23, 0.05, 0.15, 0.00,
              0.30, 0.36, 0.00, 0.24, 0.40, 0.22, 0.88, 0.56, 0.90, 0.65,
              0.76, 0.18, 0.33, 0.42, 0.12, 0.30, 0.38, 0.47, 0.20, 0.47,
              0.16, 0.35, 0.58, 0.38, 0.10, 0.26, 0.00, 0.02, 0.24, 0.08,
              0.32, 0.22, 0.62, 0.30, 0.50, 0.20, 0.62, 0.35, 0.78, 0.45,
              0.58, 0.72, 0.30]
ts_bot_020 = [0.53, 0.45, 0.59, 0.67, 0.42, 0.39, 0.43, 0.33, 0.12, 0.28,
              0.25, 0.31, 0.21, 0.49, 0.22, 0.31, 0.22, 0.33, 0.39, 0.22,
              0.27, 0.39, 0.27, 0.44, 0.37, 0.48, 0.27, 0.57, 0.71, 0.61,
              0.87, 0.78, 0.86, 0.98, 1.09, 0.86, 0.90, 0.77, 1.02, 0.76,
              0.57, 0.38, 0.31, 0.13, 0.28, 0.24, 0.17, 0.38, 0.34, 0.48,
              0.27, 0.38, 0.26, 0.62, 0.05, 0.46, 0.00, 0.27, 0.38, 0.78,
              1.26, 1.18, 1.61, 1.37, 1.29, 1.93, 1.66, 1.98, 1.83, 1.70,
              2.16, 1.78, 1.86, 1.60, 1.63, 2.36, 2.27, 2.07, 2.29, 2.49,
              2.56, 1.92, 0.95, 0.85, 0.59, 0.37, 0.20, 0.41, 0.33, 0.20,
              0.31, 0.16, 0.25, 0.57, 0.12, 0.21, 0.05, 0.17, 0.25, 0.12,
              0.28, 0.02, 0.32, 0.21, 0.36, 0.13, 0.34, 0.38, 0.69, 0.27,
              nan, 1.37, 2.53, 2.60, 1.92, 2.24, 1.83, 2.32, 2.44, 2.12,
              1.61, 2.12, 1.76, 2.15, 1.96, 2.25, 1.51, 0.93, 1.24, 0.81,
              1.34, 1.00, 0.82, 0.55, 0.32, 0.48, 0.30, 0.46, 0.20, 0.72,
              0.43, 0.63, 0.28, 0.59, 0.24, 0.61, 0.77, 0.97, 1.04, 1.46,
              1.16, 0.76, 1.06, 0.66, 0.96, 0.68, 0.18, 0.46, 0.24, 0.40,
              0.18, 0.48, 0.37, 0.63, 0.26, 0.87, 0.96, 1.08, 0.76, 0.92,
              0.99, 0.81, 1.01, 0.76, 0.55, 0.24, 0.56, 0.32, 0.16, 0.63,
              0.37, 0.20, 1.12, 0.16, 0.37, 0.09, 0.24, 0.07, 0.16, 0.02,
              0.31, 0.37, 0.02, 0.25, 0.40, 0.23, 0.86, 0.56, 0.88, 0.65,
              0.76, 0.20, 0.35, 0.44, 0.16, 0.33, 0.40, 0.48, 0.23, 0.48,
              0.18, 0.36, 0.58, 0.39, 0.13, 0.29, 0.01, 0.06, 0.28, 0.12,
              0.35, 0.26, 0.63, 0.33, 0.52, 0.24, 0.63, 0.39, 0.78, 0.49,
              0.61, 0.73, 0.33]
ts_bot_010 = [0.48, 0.40, 0.54, 0.62, 0.39, 0.36, 0.39, 0.30, 0.13, 0.27,
              0.24, 0.29, 0.21, 0.46, 0.22, 0.29, 0.23, 0.32, 0.38, 0.23,
              0.28, 0.38, 0.29, 0.44, 0.40, 0.49, 0.29, 0.56, 0.69, 0.59,
              0.82, 0.73, 0.79, 0.90, 0.98, 0.80, 0.83, 0.73, 0.94, 0.73,
              0.55, 0.38, 0.32, 0.16, 0.28, 0.25, 0.19, 0.38, 0.34, 0.47,
              0.28, 0.39, 0.29, 0.80, 0.20, 0.48, 0.06, 0.29, 0.38, 0.73,
              1.18, 1.08, 1.45, 1.24, 1.16, 1.72, 1.48, 1.77, 1.60, 1.47,
              1.88, 1.55, 1.63, 1.33, 1.40, 2.05, 2.00, 1.80, 1.95, 2.15,
              2.25, 1.77, 0.92, 0.83, 0.61, 0.39, 0.25, 0.41, 0.35, 0.24,
              0.32, 0.20, 0.27, 0.55, 0.16, 0.24, 0.10, 0.20, 0.27, 0.17,
              0.29, 0.06, 0.32, 0.24, 0.36, 0.16, 0.34, 0.38, 0.66, 0.28,
              nan, 1.30, 2.25, 2.30, 1.78, 2.00, 1.70, 2.08, 2.18, 1.92,
              1.55, 1.90, 1.66, 1.98, 1.84, 2.06, 1.48, 0.90, 1.20, 0.83,
              1.27, 0.97, 0.81, 0.56, 0.35, 0.50, 0.33, 0.49, 0.25, 0.71,
              0.44, 0.62, 0.31, 0.58, 0.27, 0.60, 0.73, 0.91, 0.98, 1.36,
              1.09, 0.72, 1.00, 0.66, 0.92, 0.66, 0.23, 0.47, 0.27, 0.42,
              0.23, 0.46, 0.39, 0.61, 0.29, 0.81, 0.91, 1.01, 0.74, 0.88,
              0.93, 0.79, 0.95, 0.74, 0.56, 0.30, 0.56, 0.36, 0.21, 0.62,
              0.39, 0.25, 1.03, 0.21, 0.39, 0.16, 0.27, 0.14, 0.21, 0.09,
              0.33, 0.39, 0.07, 0.27, 0.40, 0.26, 0.82, 0.56, 0.84, 0.67,
              0.75, 0.26, 0.41, 0.51, 0.31, 0.44, 0.50, 0.50, 0.33, 0.50,
              0.27, 0.40, 0.58, 0.42, 0.24, 0.39, 0.14, 0.21, 0.41, 0.27,
              0.48, 0.42, 0.68, 0.43, 0.59, 0.38, 0.69, 0.55, 0.79, 0.64,
              0.72, 0.78, 0.41]

top_spec = dict(zip(fpeaks, [top_030, top_020, top_015, top_010, top_000]))
bot_spec = dict(zip(fpeaks, [bot_030, bot_020, bot_015, bot_010, bot_000]))
top_ts = dict(zip(fpeaks, [ts_top_030, ts_top_020, ts_top_015, ts_top_010, ts_top_000]))
bot_ts = dict(zip(fpeaks, [ts_bot_030, ts_bot_020, ts_bot_015, ts_bot_010, ts_bot_000]))
for s in list(top_spec.values()) + list(bot_spec.values()):
    assert len(s) == len(mz)
for s in top_ts.values():
    assert len(s) == len(t_top)
for s in bot_ts.values():
    assert len(s) == len(t_bot)

diamond = Path([(-1, 0), (0, 0.48), (1, 0), (0, -0.48), (-1, 0)],
               [Path.MOVETO, Path.LINETO, Path.LINETO, Path.LINETO, Path.CLOSEPOLY])
DMS = 20.5

fig = plt.figure(figsize=(W / 100, H / 100), dpi=100)


def px_axes(left, top, right, bottom):
    return fig.add_axes([left / W, 1 - bottom / H, (right - left) / W, (bottom - top) / H])


def draw_spectrum(ax, spec, ymax, yticks):
    ax.vlines(mz, 0, spec['-0.15'], color='black', lw=3.9, zorder=2)
    for z, key in enumerate(['-0.30', '-0.20', '-0.10', '0.00']):
        ax.plot(mz, spec[key], ls='none', marker=diamond, ms=DMS, mew=0,
                color=colors[key], zorder=3 + z, clip_on=False)
    ax.set_xlim(10, 130.6)
    ax.set_ylim(0, ymax)
    for side in ['top', 'right']:
        ax.spines[side].set_visible(False)
    for side in ['left', 'bottom']:
        ax.spines[side].set_linewidth(1.8)
    ax.set_yticks(yticks)
    ax.set_yticklabels(['%.2f' % v for v in yticks])
    ax.tick_params(axis='y', length=20, width=1.8, pad=8, labelsize=27.5, direction='out')
    ax.set_facecolor('none')


ax1 = px_axes(169, 47.6, 1811.6, 589)
draw_spectrum(ax1, top_spec, 0.1105, [0, 0.02, 0.04, 0.06, 0.08, 0.10])
ax1.tick_params(axis='x', which='both', length=0, labelbottom=False)

ax2 = px_axes(169, 633.6, 1811.6, 1176)
draw_spectrum(ax2, bot_spec, 0.2086, [0, 0.05, 0.10, 0.15, 0.20])
ax2.set_xticks(range(10, 131, 10))
ax2.set_xticks(range(10, 131), minor=True)
ax2.tick_params(axis='x', which='major', length=20, width=1.8, pad=15.5, labelsize=27.5)
ax2.tick_params(axis='x', which='minor', length=11, width=1.8)
ax2.add_patch(Ellipse((43.77, 0.1885), 6.24, 0.0631, fill=False, ec='#ff0d0d', lw=5,
                      zorder=10, clip_on=False))


def draw_inset(ax, t, ts, ymax, yticks):
    for key in ['-0.30', '-0.20', '0.00', '-0.10']:
        ax.plot(t, ts[key], color=colors[key], lw=1.4)
    ax.plot(t, ts['-0.15'], color='black', lw=3.3)
    ax.set_xlim(0.023, 15.14)
    ax.set_ylim(0, ymax)
    ax.spines['left'].set_position(('data', 0.41))
    for side in ['top', 'right']:
        ax.spines[side].set_visible(False)
    for side in ['left', 'bottom']:
        ax.spines[side].set_linewidth(1.5)
    ax.set_yticks(yticks)
    ax.set_yticklabels(['%.1f' % v for v in yticks])
    ax.tick_params(axis='y', length=14, width=1.5, pad=8, labelsize=18)
    ax.set_facecolor('none')


ax3 = px_axes(1017, 11.7, 1760, 463)
draw_inset(ax3, t_top, top_ts, 3.29, [0, 0.5, 1.0, 1.5, 2.0, 2.5, 3.0])
ax3.tick_params(axis='x', length=0, labelbottom=False)

ax4 = px_axes(1017, 626, 1760, 1087)
draw_inset(ax4, t_bot, bot_ts, 2.59, [0, 0.5, 1.0, 1.5, 2.0, 2.5])
ax4.set_xticks([2, 4, 6, 8, 10, 12, 14])
ax4.set_xticklabels(['2.4.2005', '', '6.4.2005', '', '10.4.2005', '', '14.4.2005'])
ax4.tick_params(axis='x', length=12, width=1.5, pad=13, labelsize=18)

# texts
fig.text(674 / W, 1 - 228 / H, 'OOA2 or\nSV-OOA\nO:C~0.23', fontsize=34.5, ha='left', va='center',
         linespacing=1.36)
fig.text(659 / W, 1 - 900 / H, 'OOA1 or\nLV-OOA\nO:C~0.77', fontsize=34.5, ha='left', va='center',
         linespacing=1.36)
fig.text(23 / W, 1 - 657 / H, 'Relative intensity', rotation=90, fontsize=27, ha='center', va='center')
fig.text(2 / W, 1 - 1300 / H, 'O:C based on Aiken et al. (2008) fit', fontsize=27, ha='left', va='center')
fig.text(986 / W, 1 - 1296 / H, 'm/z', fontsize=26.5, ha='center', va='center')
for yc in [233, 860]:
    fig.text(949 / W, 1 - yc / H, 'Mass concentration (µg/m³)', rotation=90, fontsize=19.5,
             ha='center', va='center')

# legend of the spectra
fig.text(383 / W, 1 - 71 / H, 'FPEAK', fontsize=27.5, ha='right', va='center')
for key, yc in zip(fpeaks, [111.5, 154, 198, 244, 289]):
    if key == '-0.15':
        fig.add_artist(Line2D([245 / W], [1 - yc / H], marker='|', ms=17, mew=4.5,
                              color='black', transform=fig.transFigure))
    else:
        fig.add_artist(Line2D([245 / W], [1 - yc / H], marker=diamond, ms=DMS, mew=0,
                              color=colors[key], transform=fig.transFigure))
    fig.text(383 / W, 1 - (yc + 3) / H, key, fontsize=27.5, ha='right', va='center')
fig.add_artist(Rectangle((205 / W, 1 - 222 / H), 194 / W, 48 / H, fill=False, ec='#ff00ff',
                         lw=2.2, transform=fig.transFigure))

# legend of the time series
fig.text(1743 / W, 1 - 665 / H, 'FPEAK', fontsize=18, ha='right', va='center')
for key, yc in zip(fpeaks, [690, 718.5, 747, 776, 805]):
    fig.add_artist(Line2D([1644 / W, 1677 / W], [1 - yc / H, 1 - yc / H],
                          lw=3.5 if key == '-0.15' else 1.5, color=colors[key],
                          transform=fig.transFigure))
    fig.text(1743 / W, 1 - (yc + 2.5) / H, key, fontsize=18, ha='right', va='center')

fig.savefig('out.png', dpi=100)
